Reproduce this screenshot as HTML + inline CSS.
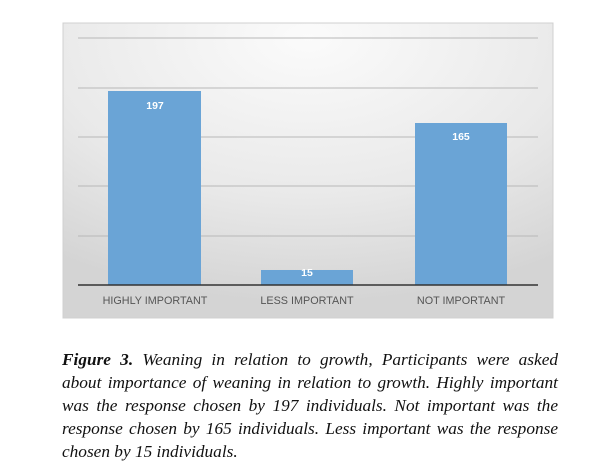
<!DOCTYPE html>
<html><head><style>
body{margin:0;width:600px;height:475px;background:#fff;position:relative;overflow:hidden}
.cap{position:absolute;left:62px;top:348px;width:496px;font-family:"Liberation Serif",serif;font-style:italic;font-size:17.3px;line-height:23px;color:#111}
.cap div{text-align:justify;text-align-last:justify;white-space:nowrap}
.cap div.last{text-align-last:left}
</style></head><body>
<svg width="600" height="330" style="position:absolute;left:0;top:0">
<defs><radialGradient id="g" cx="0.5" cy="0.05" r="0.9"><stop offset="0" stop-color="#fbfbfb"/><stop offset="0.6" stop-color="#e9e9e9"/><stop offset="1" stop-color="#d4d4d4"/></radialGradient></defs>
<rect x="63" y="23" width="490" height="295" fill="url(#g)" stroke="#d0d0d0"/>
<g stroke="#b8b8b8" stroke-width="1"><line x1="78" x2="538" y1="38" y2="38"/><line x1="78" x2="538" y1="88" y2="88"/><line x1="78" x2="538" y1="137" y2="137"/><line x1="78" x2="538" y1="186" y2="186"/><line x1="78" x2="538" y1="236" y2="236"/></g>
<g fill="#6aa4d6"><rect x="108" y="91" width="93" height="194"/><rect x="261" y="270" width="92" height="15"/><rect x="415" y="123" width="92" height="162"/></g>
<line x1="78" x2="538" y1="285" y2="285" stroke="#333" stroke-width="1.5"/>
<g font-family="Liberation Sans,sans-serif" font-size="10.5" font-weight="bold" fill="#fff" text-anchor="middle"><text x="155" y="109">197</text><text x="307" y="276">15</text><text x="461" y="140">165</text></g>
<g font-family="Liberation Sans,sans-serif" font-size="10.8" fill="#555" text-anchor="middle"><text x="155" y="304">HIGHLY IMPORTANT</text><text x="307" y="304">LESS IMPORTANT</text><text x="461" y="304">NOT IMPORTANT</text></g>
</svg>
<div class="cap">
<div><b>Figure 3.</b> Weaning in relation to growth, Participants were asked</div>
<div>about importance of weaning in relation to growth. Highly important</div>
<div>was the response chosen by 197 individuals. Not important was the</div>
<div>response chosen by 165 individuals. Less important was the response</div>
<div class="last">chosen by 15 individuals.</div>
</div>
</body></html>
